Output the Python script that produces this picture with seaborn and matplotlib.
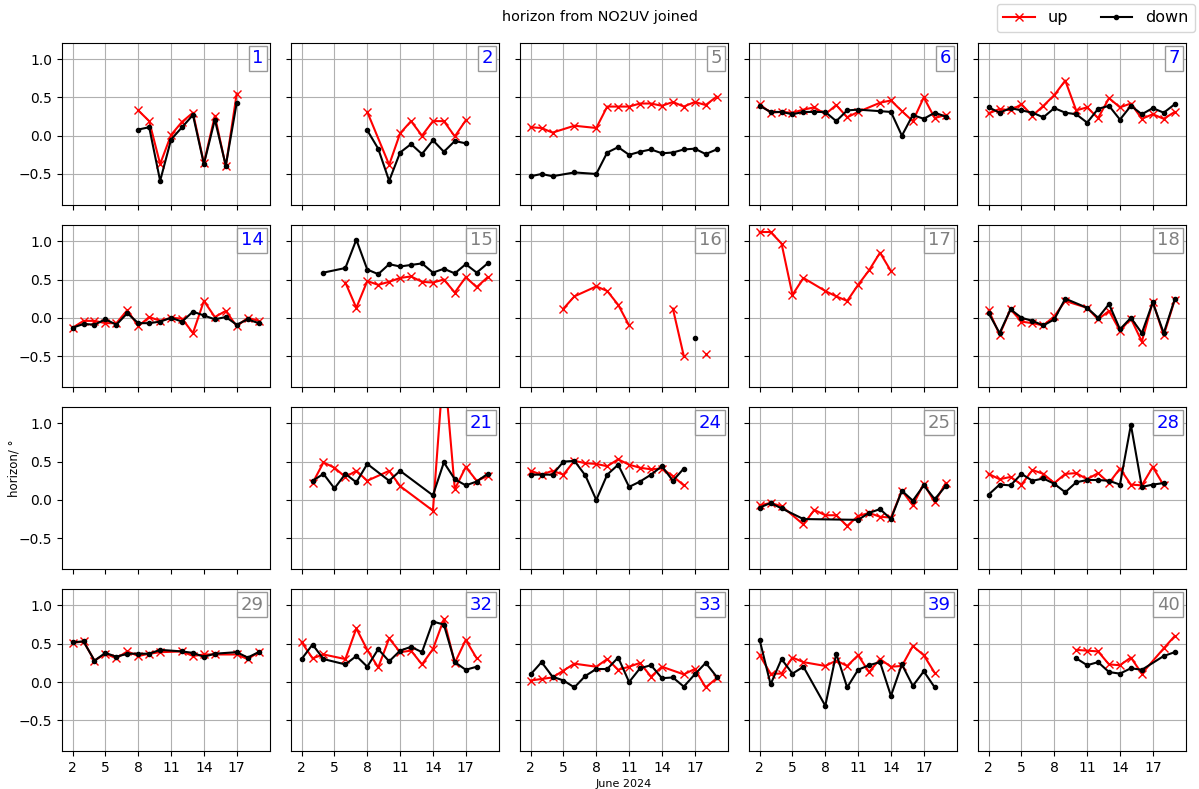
import numpy as np
import pandas as pd
import matplotlib
matplotlib.use("Agg")
import matplotlib.pyplot as plt
import seaborn as sns
from matplotlib.lines import Line2D
from matplotlib.offsetbox import AnchoredText

nan = np.nan

# ---------------- data (day of June 2024, horizon in degrees) ----------------
days_1 = [8, 9, 10, 11, 12, 13, 14, 15, 16, 17]
up_1 = [0.33, 0.19, -0.37, 0.01, 0.18, 0.30, -0.36, 0.26, -0.40, 0.55]
dn_1 = [0.08, 0.11, -0.59, -0.05, 0.11, 0.27, -0.37, 0.21, -0.39, 0.43]

up_days_2 = [8, 10, 11, 12, 13, 14, 15, 16, 17]
up_2 = [0.31, -0.38, 0.03, 0.19, 0.00, 0.19, 0.19, -0.01, 0.20]
dn_days_2 = [8, 9, 10, 11, 12, 13, 14, 15, 16, 17]
dn_2 = [0.07, -0.17, -0.59, -0.22, -0.11, -0.24, -0.06, -0.21, -0.07, -0.10]

days_5 = [2, 3, 4, 6, 8, 9, 10, 11, 12, 13, 14, 15, 16, 17, 18, 19]
up_5 = [0.11, 0.10, 0.04, 0.13, 0.10, 0.38, 0.38, 0.38, 0.42, 0.42, 0.39, 0.44, 0.38, 0.44, 0.40, 0.51]
dn_5 = [-0.53, -0.50, -0.53, -0.48, -0.50, -0.22, -0.15, -0.25, -0.21, -0.18, -0.23, -0.22, -0.18, -0.17, -0.24, -0.18]

days_6 = [2, 3, 4, 5, 6, 7, 8, 9, 10, 11, 13, 14, 15, 16, 17, 18, 19]
up_6 = [0.41, 0.30, 0.31, 0.30, 0.34, 0.37, 0.28, 0.40, 0.24, 0.31, 0.43, 0.46, 0.32, 0.19, 0.50, 0.23, 0.27]
dn_6 = [0.39, 0.31, 0.31, 0.28, 0.31, 0.31, 0.31, 0.19, 0.33, 0.34, 0.32, 0.31, 0.00, 0.27, 0.22, 0.30, 0.25]

days_7 = list(range(2, 20))
up_7 = [0.29, 0.35, 0.33, 0.41, 0.26, 0.39, 0.53, 0.72, 0.33, 0.37, 0.23, 0.49, 0.37, 0.42, 0.22, 0.28, 0.22, 0.31]
dn_7 = [0.37, 0.30, 0.36, 0.33, 0.30, 0.24, 0.36, 0.30, 0.28, 0.17, 0.35, 0.39, 0.21, 0.39, 0.28, 0.36, 0.30, 0.41]

days_14 = list(range(2, 20))
up_14 = [-0.13, -0.04, -0.04, -0.07, -0.07, 0.10, -0.11, 0.01, -0.04, 0.00, -0.01, -0.20, 0.22, 0.01, 0.09, -0.11, 0.00, -0.04]
dn_14 = [-0.13, -0.08, -0.09, -0.02, -0.09, 0.06, -0.07, -0.07, -0.05, 0.00, -0.05, 0.08, 0.03, -0.02, 0.01, -0.09, -0.02, -0.07]

up_days_15 = [6, 7, 8, 9, 10, 11, 12, 13, 14, 15, 16, 17, 18, 19]
up_15 = [0.46, 0.13, 0.48, 0.43, 0.47, 0.52, 0.54, 0.47, 0.46, 0.50, 0.33, 0.53, 0.40, 0.53]
dn_days_15 = [4, 6, 7, 8, 9, 10, 11, 12, 13, 14, 15, 16, 17, 18, 19]
dn_15 = [0.59, 0.65, 1.02, 0.63, 0.57, 0.70, 0.67, 0.69, 0.71, 0.59, 0.64, 0.58, 0.70, 0.59, 0.71]

up_days_16 = [5, 6, 8, 9, 10, 11, 12, 15, 16, 17, 18]
up_16 = [0.12, 0.28, 0.41, 0.35, 0.17, -0.10, nan, 0.12, -0.50, nan, -0.47]
dn_days_16 = [17]
dn_16 = [-0.27]

up_days_17 = [2, 3, 4, 5, 6, 8, 9, 10, 11, 12, 13, 14]
up_17 = [1.12, 1.12, 0.97, 0.30, 0.52, 0.35, 0.28, 0.22, 0.43, 0.62, 0.85, 0.61]
dn_days_17 = []
dn_17 = []

days_18 = [2, 3, 4, 5, 6, 7, 8, 9, 11, 12, 13, 14, 15, 16, 17, 18, 19]
up_18 = [0.10, -0.22, 0.11, -0.05, -0.07, -0.10, 0.02, 0.22, 0.13, -0.02, 0.09, -0.17, -0.01, -0.31, 0.21, -0.23, 0.23]
dn_18 = [0.06, -0.20, 0.11, 0.00, -0.04, -0.10, -0.02, 0.25, 0.13, 0.00, 0.18, -0.15, 0.00, -0.20, 0.20, -0.20, 0.24]

days_21 = [3, 4, 5, 6, 7, 8, 10, 11, 14, 15, 16, 17, 18, 19]
up_21 = [0.22, 0.49, 0.42, 0.30, 0.38, 0.25, 0.38, 0.18, -0.14, 1.80, 0.14, 0.43, 0.25, 0.31]
dn_21 = [0.25, 0.34, 0.15, 0.34, 0.23, 0.47, 0.25, 0.38, 0.06, 0.49, 0.27, 0.19, 0.24, 0.34]

days_24 = list(range(2, 17))
up_24 = [0.38, 0.33, 0.38, 0.33, 0.51, 0.48, 0.47, 0.44, 0.53, 0.46, 0.42, 0.40, 0.41, 0.31, 0.19]
dn_24 = [0.33, 0.33, 0.33, 0.50, 0.51, 0.32, 0.00, 0.33, 0.46, 0.17, 0.24, 0.33, 0.44, 0.25, 0.41]

up_days_25 = [2, 3, 4, 6, 7, 8, 9, 10, 11, 12, 13, 14, 15, 16, 17, 18, 19]
up_25 = [-0.07, -0.04, -0.08, -0.32, -0.13, -0.20, -0.20, -0.34, -0.21, -0.17, -0.22, -0.23, 0.12, -0.07, 0.21, -0.03, 0.22]
dn_days_25 = [2, 3, 4, 6, 11, 12, 13, 14, 15, 16, 17, 18, 19]
dn_25 = [-0.10, -0.04, -0.11, -0.25, -0.26, -0.17, -0.12, -0.25, 0.12, -0.01, 0.19, 0.01, 0.18]

days_28 = list(range(2, 19))
up_28 = [0.34, 0.27, 0.30, 0.20, 0.39, 0.34, 0.22, 0.34, 0.35, 0.27, 0.35, 0.22, 0.41, 0.20, 0.19, 0.43, 0.19]
dn_28 = [0.07, 0.20, 0.19, 0.34, 0.25, 0.28, 0.21, 0.10, 0.23, 0.26, 0.26, 0.25, 0.20, 0.98, 0.17, 0.20, 0.22]

days_29 = [2, 3, 4, 5, 6, 7, 8, 9, 10, 12, 13, 14, 15, 17, 18, 19]
up_29 = [0.51, 0.53, 0.28, 0.37, 0.31, 0.40, 0.34, 0.37, 0.39, 0.40, 0.34, 0.36, 0.36, 0.36, 0.30, 0.39]
dn_29 = [0.52, 0.53, 0.28, 0.38, 0.33, 0.37, 0.37, 0.37, 0.42, 0.40, 0.38, 0.33, 0.37, 0.39, 0.32, 0.39]

days_32 = [2, 3, 4, 6, 7, 8, 9, 10, 11, 12, 13, 14, 15, 16, 17, 18]
up_32 = [0.52, 0.31, 0.36, 0.30, 0.70, 0.42, 0.19, 0.57, 0.39, 0.41, 0.23, 0.43, 0.82, 0.25, 0.55, 0.31]
dn_32 = [0.30, 0.49, 0.30, 0.23, 0.34, 0.20, 0.43, 0.27, 0.41, 0.46, 0.39, 0.79, 0.75, 0.26, 0.16, 0.20]

up_days_33 = [2, 3, 4, 5, 6, 8, 9, 10, 11, 12, 13, 14, 16, 17, 18, 19]
up_33 = [0.02, 0.04, 0.06, 0.15, 0.24, 0.20, 0.30, 0.16, 0.20, 0.25, 0.07, 0.20, 0.10, 0.17, -0.07, 0.05]
dn_days_33 = list(range(2, 20))
dn_33 = [0.10, 0.26, 0.07, 0.02, -0.07, 0.08, 0.17, 0.17, 0.32, 0.00, 0.18, 0.22, 0.05, 0.06, -0.06, 0.10, 0.25, 0.07]

days_39 = [2, 3, 4, 5, 6, 8, 9, 10, 11, 12, 13, 14, 15, 16, 17, 18]
up_39 = [0.35, 0.11, 0.11, 0.32, 0.26, 0.21, 0.28, 0.21, 0.35, 0.13, 0.30, 0.20, 0.21, 0.47, 0.35, 0.12]
dn_39 = [0.55, -0.03, 0.30, 0.11, 0.20, -0.31, 0.37, -0.07, 0.16, 0.22, 0.26, -0.18, 0.23, -0.05, 0.14, -0.07]

days_40 = [10, 11, 12, 13, 14, 15, 16, 18, 19]
up_40 = [0.42, 0.41, 0.40, 0.23, 0.22, 0.32, 0.11, 0.44, 0.60]
dn_40 = [0.31, 0.22, 0.26, 0.13, 0.11, 0.18, 0.16, 0.34, 0.39]

# panel layout (None = empty panel) and label colours
panel_ids = [1, 2, 5, 6, 7, 14, 15, 16, 17, 18, None, 21, 24, 25, 28, 29, 32, 33, 39, 40]
blue_ids = [1, 2, 6, 7, 14, 21, 24, 28, 32, 33, 39]
x_ticks = [2, 5, 8, 11, 14, 17]
y_ticks = [-0.5, 0.0, 0.5, 1.0]

series = {
    1: (days_1, up_1, days_1, dn_1),
    2: (up_days_2, up_2, dn_days_2, dn_2),
    5: (days_5, up_5, days_5, dn_5),
    6: (days_6, up_6, days_6, dn_6),
    7: (days_7, up_7, days_7, dn_7),
    14: (days_14, up_14, days_14, dn_14),
    15: (up_days_15, up_15, dn_days_15, dn_15),
    16: (up_days_16, up_16, dn_days_16, dn_16),
    17: (up_days_17, up_17, dn_days_17, dn_17),
    18: (days_18, up_18, days_18, dn_18),
    21: (days_21, up_21, days_21, dn_21),
    24: (days_24, up_24, days_24, dn_24),
    25: (up_days_25, up_25, dn_days_25, dn_25),
    28: (days_28, up_28, days_28, dn_28),
    29: (days_29, up_29, days_29, dn_29),
    32: (days_32, up_32, days_32, dn_32),
    33: (up_days_33, up_33, dn_days_33, dn_33),
    39: (days_39, up_39, days_39, dn_39),
    40: (days_40, up_40, days_40, dn_40),
}

UP_STYLE = dict(color="red", marker="x", markersize=6, markeredgecolor="red", markeredgewidth=1.0)
DN_STYLE = dict(color="black", marker=".", markersize=6, markeredgecolor="black", markeredgewidth=1.0)


def draw(ax, days, vals, style):
    if len(days) == 0:
        return
    df = pd.DataFrame({"day": days, "val": vals})
    df["seg"] = df["val"].isna().cumsum()
    df = df.dropna()
    sns.lineplot(data=df, x="day", y="val", units="seg", estimator=None,
                 linewidth=1.5, ax=ax, legend=False, **style)


fig, axes = plt.subplots(4, 5, figsize=(11.99, 7.89), dpi=100, sharex=True, sharey=True)
fig.subplots_adjust(left=0.0517, right=0.9892, top=0.9455, bottom=0.0482,
                    wspace=0.101, hspace=0.127)

for ax, pid in zip(axes.flat, panel_ids):
    if pid is not None:
        ud, uv, dd, dv = series[pid]
        draw(ax, ud, uv, UP_STYLE)
        draw(ax, dd, dv, DN_STYLE)
        ax.grid(True)
        at = AnchoredText(str(pid), loc="upper right", frameon=True, pad=0.2, borderpad=0.15,
                          prop=dict(size=13, color="blue" if pid in blue_ids else "grey"))
        at.patch.set_edgecolor("0.6")
        at.patch.set_boxstyle("square,pad=0")
        ax.add_artist(at)
    ax.set_xlabel("")
    ax.set_ylabel("")

ax0 = axes[0, 0]
ax0.set_xlim(1.03, 20.04)
ax0.set_ylim(-0.9, 1.21)
ax0.set_xticks(x_ticks)
ax0.set_yticks(y_ticks)

axes[3, 2].set_xlabel("June 2024", fontsize=8, labelpad=3)
ylab_ax = axes[2, 0]
ylab_ax.set_ylabel("horizon/ °", fontsize=8.5)
ylab_ax.yaxis.set_label_coords(-0.2, 0.62)

fig.suptitle("horizon from NO2UV joined", fontsize=10.4, y=1 - 17 / 789, va="center")

handles = [Line2D([], [], lw=1.5, **UP_STYLE), Line2D([], [], lw=1.5, **DN_STYLE)]
fig.legend(handles=handles, labels=["up", "down"], loc="upper right", ncol=2, fontsize=11.5,
           bbox_to_anchor=(1.0, 1.0), borderaxespad=0.25)

fig.savefig("out.png", dpi=100)
